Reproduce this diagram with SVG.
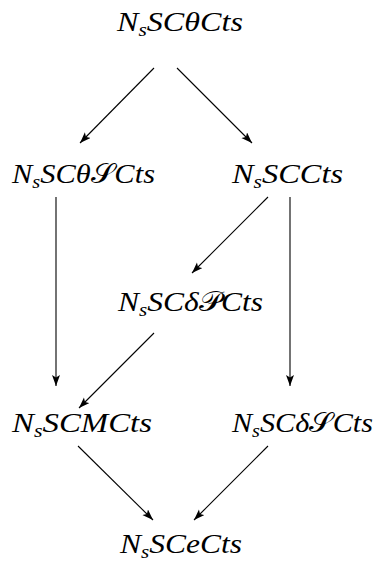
<svg xmlns="http://www.w3.org/2000/svg" width="374" height="563" viewBox="0 0 374 563">
<style>
text { font-family: "Liberation Serif", "DejaVu Serif", serif; font-style: italic; font-size: 27px; fill: #000; }
.sub { font-size: 18px; }
.cal { font-family: "DejaVu Sans", "Noto Sans", "Liberation Serif", serif; font-style: normal; }
.conn line { stroke: #000; stroke-width: 1.1; fill: none; marker-end: url(#ah); }
</style>
<defs>
<marker id="ah" markerUnits="userSpaceOnUse" markerWidth="12" markerHeight="10" refX="11" refY="4" orient="auto">
<path d="M0,0 L11,4 L0,8 L2.5,4 z" fill="#000"/>
</marker>
</defs>
<rect width="374" height="563" fill="#fff"/>
<g id="connectors" class="conn">
<line x1="154" y1="68" x2="80" y2="143"/>
<line x1="177" y1="68" x2="252" y2="143"/>
<line x1="56" y1="197" x2="56" y2="386"/>
<line x1="268" y1="197" x2="192" y2="273"/>
<line x1="290" y1="197" x2="290" y2="386"/>
<line x1="154" y1="333" x2="79" y2="408"/>
<line x1="78" y1="446" x2="153" y2="520"/>
<line x1="268" y1="446" x2="194" y2="520"/>
</g>
<g id="n1"><text x="117" y="31" textLength="126" lengthAdjust="spacingAndGlyphs">N<tspan class="sub" dy="5">s</tspan><tspan dy="-5">SCθCts</tspan></text></g>
<g id="n2"><text x="12" y="183" textLength="143" lengthAdjust="spacingAndGlyphs">N<tspan class="sub" dy="5">s</tspan><tspan dy="-5">SCθ</tspan><tspan class="cal">𝒮</tspan><tspan>Cts</tspan></text></g>
<g id="n3"><text x="232" y="183" textLength="111" lengthAdjust="spacingAndGlyphs">N<tspan class="sub" dy="5">s</tspan><tspan dy="-5">SCCts</tspan></text></g>
<g id="n4"><text x="118" y="311" textLength="145" lengthAdjust="spacingAndGlyphs">N<tspan class="sub" dy="5">s</tspan><tspan dy="-5">SCδ</tspan><tspan class="cal">𝒫</tspan><tspan>Cts</tspan></text></g>
<g id="n5"><text x="12" y="432" textLength="140" lengthAdjust="spacingAndGlyphs">N<tspan class="sub" dy="5">s</tspan><tspan dy="-5">SCMCts</tspan></text></g>
<g id="n6"><text x="232" y="432" textLength="141" lengthAdjust="spacingAndGlyphs">N<tspan class="sub" dy="5">s</tspan><tspan dy="-5">SCδ</tspan><tspan class="cal">𝒮</tspan><tspan>Cts</tspan></text></g>
<g id="n7"><text x="120" y="553" textLength="122" lengthAdjust="spacingAndGlyphs">N<tspan class="sub" dy="5">s</tspan><tspan dy="-5">SCeCts</tspan></text></g>
</svg>
